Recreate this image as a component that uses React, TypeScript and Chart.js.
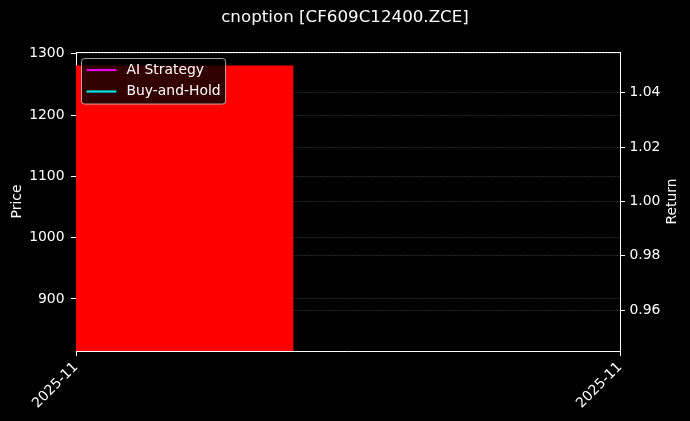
import React, { useEffect, useRef } from "react";
import { Chart, registerables } from "chart.js";

Chart.register(...registerables);

// ---- data ----
const TITLE = "cnoption [CF609C12400.ZCE]";
const xTickPositions = [0, 1];
const xTickLabels = ["2025-11", "2025-11"];
const priceTicks = [900, 1000, 1100, 1200, 1300];
const returnTicks = [0.96, 0.98, 1.0, 1.02, 1.04];
const priceRange = [815, 1303];
const returnRange = [0.945, 1.055];
const barX = [0, 0.4];
const barPrice = [1281, 1281];
const seriesX = [0];
const strategyReturns = [1.0];
const buyHoldReturns = [1.0];
const seriesNames = ["AI Strategy", "Buy-and-Hold"];
const seriesColors = ["#e600e6", "#00e6e6"];
const leftAxisTitle = "Price";
const rightAxisTitle = "Return";

const FONT = "DejaVu Sans";
const FS = 13.9;

const bgPlugin = {
  id: "bg",
  beforeDraw(chart: any) {
    const { ctx, width, height } = chart;
    ctx.save();
    ctx.fillStyle = "#000";
    ctx.fillRect(0, 0, width, height);
    ctx.restore();
  },
};

const framePlugin = {
  id: "frame",
  afterDraw(chart: any) {
    const { ctx, chartArea: a, width } = chart;
    ctx.save();
    ctx.strokeStyle = "#ffffff";
    ctx.lineWidth = 1;
    ctx.beginPath();
    ctx.moveTo(a.left, Math.round(a.top) + 0.5);
    ctx.lineTo(a.right, Math.round(a.top) + 0.5);
    ctx.stroke();
    // right axis title, reading bottom-to-top
    ctx.font = `${FS}px "${FONT}"`;
    ctx.fillStyle = "#ffffff";
    ctx.textAlign = "center";
    ctx.textBaseline = "middle";
    ctx.translate(width - 17.5, (a.top + a.bottom) / 2);
    ctx.rotate(-Math.PI / 2);
    ctx.fillText(rightAxisTitle, 0, 0);
    ctx.restore();
  },
};

const legendPlugin = {
  id: "insideLegend",
  afterDraw(chart: any) {
    const { ctx, chartArea: a } = chart;
    ctx.save();
    ctx.font = `${FS}px "${FONT}"`;
    const maxW = Math.max(...seriesNames.map((n) => ctx.measureText(n).width));
    const bx = a.left + 5.5;
    const by = a.top + 6.5;
    const bw = 45 + maxW + 5;
    const bh = 45.5;
    const r = 3;
    ctx.beginPath();
    ctx.moveTo(bx + r, by);
    ctx.lineTo(bx + bw - r, by);
    ctx.quadraticCurveTo(bx + bw, by, bx + bw, by + r);
    ctx.lineTo(bx + bw, by + bh - r);
    ctx.quadraticCurveTo(bx + bw, by + bh, bx + bw - r, by + bh);
    ctx.lineTo(bx + r, by + bh);
    ctx.quadraticCurveTo(bx, by + bh, bx, by + bh - r);
    ctx.lineTo(bx, by + r);
    ctx.quadraticCurveTo(bx, by, bx + r, by);
    ctx.closePath();
    ctx.fillStyle = "rgba(0,0,0,0.8)";
    ctx.fill();
    ctx.strokeStyle = "rgba(204,204,204,0.8)";
    ctx.lineWidth = 1;
    ctx.stroke();
    seriesNames.forEach((name, i) => {
      const cy = by + 11.5 + i * 21.5;
      ctx.strokeStyle = seriesColors[i];
      ctx.lineWidth = 2.2;
      ctx.beginPath();
      ctx.moveTo(bx + 5, cy);
      ctx.lineTo(bx + 35, cy);
      ctx.stroke();
      ctx.fillStyle = "#ffffff";
      ctx.textBaseline = "middle";
      ctx.textAlign = "left";
      ctx.fillText(name, bx + 45, cy);
    });
    ctx.restore();
  },
};

export default function App() {
  const ref = useRef<HTMLCanvasElement>(null);
  useEffect(() => {
    document.body.style.margin = "0";
    document.body.style.background = "#000";
    const gridColor = "rgba(128,128,128,0.3)";
    const chart = new Chart(ref.current as HTMLCanvasElement, {
      type: "line",
      data: {
        datasets: [
          {
            label: "Price",
            data: barX.map((x, i) => ({ x, y: barPrice[i] })),
            yAxisID: "y",
            fill: "start",
            backgroundColor: "#ff0000",
            borderColor: "#ff0000",
            borderWidth: 0,
            pointRadius: 0,
          },
          {
            label: seriesNames[0],
            data: seriesX.map((x, i) => ({ x, y: strategyReturns[i] })),
            yAxisID: "y1",
            borderColor: seriesColors[0],
            borderWidth: 2,
            pointRadius: 0,
          },
          {
            label: seriesNames[1],
            data: seriesX.map((x, i) => ({ x, y: buyHoldReturns[i] })),
            yAxisID: "y1",
            borderColor: seriesColors[1],
            borderWidth: 2,
            pointRadius: 0,
          },
        ],
      },
      options: {
        animation: false,
        responsive: false,
        devicePixelRatio: 1,
        layout: { padding: 0 },
        font: { family: FONT },
        plugins: {
          legend: { display: false },
          tooltip: { enabled: false },
          title: {
            display: true,
            text: TITLE,
            color: "#ffffff",
            font: { family: FONT, size: 16.7, weight: "normal" },
            padding: { top: 8, bottom: 24 },
          },
        },
        scales: {
          x: {
            type: "linear",
            position: "bottom",
            min: xTickPositions[0],
            max: xTickPositions[xTickPositions.length - 1],
            afterBuildTicks: (s: any) => {
              s.ticks = xTickPositions.map((v) => ({ value: v }));
            },
            afterFit: (s: any) => {
              s.height = 70;
            },
            ticks: {
              autoSkip: false,
              minRotation: 45,
              maxRotation: 45,
              color: "#ffffff",
              padding: 3,
              font: { family: FONT, size: FS },
              callback: (_v: any, i: number) => xTickLabels[i],
            },
            grid: {
              drawOnChartArea: false,
              drawTicks: true,
              tickLength: 5,
              tickColor: "#ffffff",
            },
            border: { color: "#ffffff", width: 1 },
          },
          y: {
            type: "linear",
            position: "left",
            min: priceRange[0],
            max: priceRange[1],
            z: 1,
            afterBuildTicks: (s: any) => {
              s.ticks = priceTicks.map((v) => ({ value: v }));
            },
            afterFit: (s: any) => {
              s.width = 76;
            },
            ticks: {
              color: "#ffffff",
              padding: 6.5,
              font: { family: FONT, size: FS },
              callback: (v: any) => String(v),
            },
            grid: {
              color: gridColor,
              lineWidth: 1,
              drawTicks: true,
              tickLength: 5,
              tickColor: "#ffffff",
            },
            border: { color: "#ffffff", width: 1, dash: [2, 1] },
            title: {
              display: true,
              text: leftAxisTitle,
              color: "#ffffff",
              font: { family: FONT, size: FS },
              padding: { top: 8.9, bottom: 0 },
            },
          },
          y1: {
            type: "linear",
            position: "right",
            min: returnRange[0],
            max: returnRange[1],
            z: 1,
            afterBuildTicks: (s: any) => {
              s.ticks = returnTicks.map((v) => ({ value: v }));
            },
            afterFit: (s: any) => {
              s.width = 70;
            },
            ticks: {
              color: "#ffffff",
              padding: 4.5,
              font: { family: FONT, size: FS },
              callback: (v: any) => Number(v).toFixed(2),
            },
            grid: {
              color: gridColor,
              lineWidth: 1,
              drawTicks: true,
              tickLength: 5,
              tickColor: "#ffffff",
            },
            border: { color: "#ffffff", width: 1, dash: [2, 1] },
          },
        },
      } as any,
      plugins: [bgPlugin, framePlugin, legendPlugin],
    });
    return () => chart.destroy();
  }, []);
  return (
    <div style={{ width: 690, height: 421, background: "#000" }}>
      <canvas ref={ref} width={690} height={421} style={{ display: "block" }} />
    </div>
  );
}
